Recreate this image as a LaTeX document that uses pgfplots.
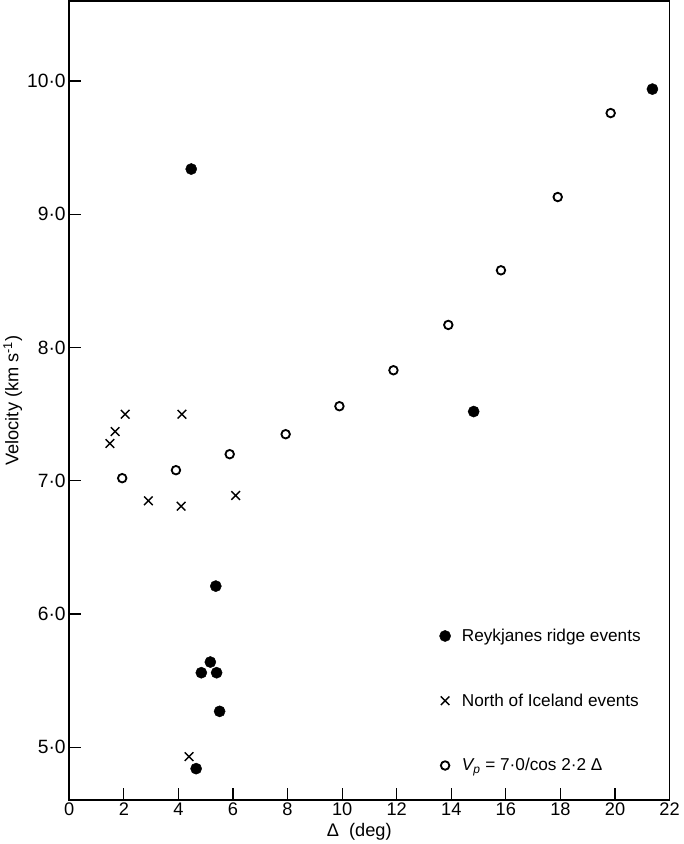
\documentclass[border=0pt]{standalone}
\usepackage{fontspec}
\setmainfont{Liberation Sans}
\usepackage{pgfplots}
\pgfplotsset{compat=1.18}
\begin{document}
\begin{tikzpicture}
\begin{axis}[
  scale only axis, width=591bp, height=787bp,
  xmin=0, xmax=22, ymin=4.603, ymax=10.603,
  xtick={0,2,...,22}, ytick={5,6,7,8,9,10},
  yticklabels={5·0,6·0,7·0,8·0,9·0,10·0},
  /pgf/number format/assume math mode=true,
  tick align=inside, major tick length=12bp,
  xtick pos=bottom, ytick pos=left,
  axis line style={line width=1.5bp},
  every tick/.style={line width=1.2bp, black},
  xticklabel style={font=\fontsize{18}{21}\selectfont, yshift=1bp},
  yticklabel style={font=\fontsize{19}{22}\selectfont},
  xlabel={Δ\ \ (deg)}, ylabel={Velocity (km s\textsuperscript{-1})},
  label style={font=\fontsize{18}{21}\selectfont},
  xlabel style={yshift=-1bp, xshift=-10bp},
  ylabel style={yshift=-2bp},
  legend style={at={(axis cs:13.45,5.92)}, anchor=north west, draw=none, fill=none,
     row sep=46bp, column sep=9bp, font=\fontsize{17}{20}\selectfont},
  legend cell align=left,
]
\addplot[only marks, mark=*, mark size=5.5bp, black] coordinates {
(4.47,9.34) (21.37,9.94) (14.82,7.52) (5.37,6.21) (5.17,5.64)
(4.84,5.56) (5.40,5.56) (5.51,5.27) (4.65,4.84)
};
\addlegendentry{Reykjanes ridge events}
\addplot[only marks, mark=x, mark size=6bp, line width=1.4bp, black] coordinates {
(1.49,7.28) (1.68,7.37) (2.05,7.50) (4.13,7.50) (2.90,6.85)
(4.10,6.81) (6.10,6.89) (4.39,4.93)
};
\addlegendentry{North of Iceland events}
\addplot[only marks, mark=o, mark size=4.2bp, line width=1.8bp, black] coordinates {
(1.94,7.02) (3.91,7.08) (5.88,7.20) (7.93,7.35) (9.90,7.56)
(11.88,7.83) (13.89,8.17) (15.82,8.58) (17.90,9.13) (19.84,9.76)
};
\addlegendentry{{\itshape V}\textsubscript{\itshape p} = 7·0/cos 2·2 Δ}
\end{axis}
\end{tikzpicture}
\end{document}
